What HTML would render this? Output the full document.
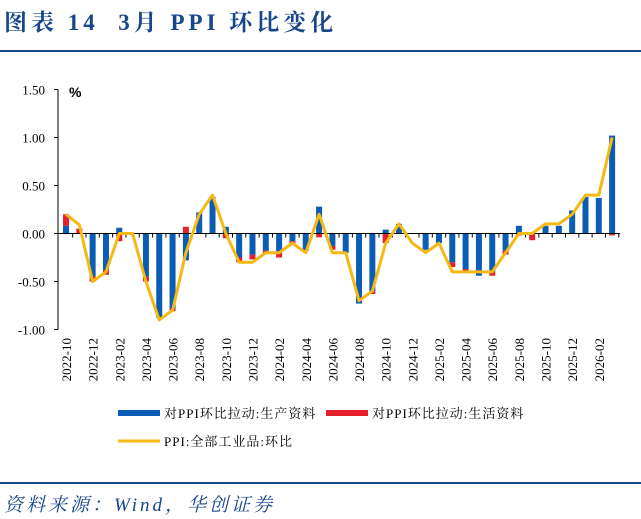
<!DOCTYPE html>
<html><head><meta charset="utf-8"><style>
body{margin:0;width:641px;height:519px;background:#fff;overflow:hidden;font-family:"Liberation Serif","Noto Serif CJK SC",serif;}
#title{position:absolute;left:4px;top:4px;font-size:23px;font-weight:bold;color:#17468a;letter-spacing:4px;white-space:pre;}
#src{position:absolute;left:4px;top:490px;font-size:19px;font-style:italic;color:#17468a;letter-spacing:3px;}
</style></head><body>
<div id="title">图表 14  3月 PPI 环比变化</div>
<svg id="c" width="641" height="519" style="position:absolute;left:0;top:0">
<line x1="0" y1="51" x2="641" y2="51" stroke="#17468a" stroke-width="2"/>
<line x1="0" y1="483" x2="641" y2="483" stroke="#17468a" stroke-width="2"/>
</svg>
<div id="src">资料来源：Wind，华创证券</div>
<script>
const months=["2022-10","2022-11","2022-12","2023-01","2023-02","2023-03","2023-04","2023-05","2023-06","2023-07","2023-08","2023-09","2023-10","2023-11","2023-12","2024-01","2024-02","2024-03","2024-04","2024-05","2024-06","2024-07","2024-08","2024-09","2024-10","2024-11","2024-12","2025-01","2025-02","2025-03","2025-04","2025-05","2025-06","2025-07","2025-08","2025-09","2025-10","2025-11","2025-12","2026-01","2026-02","2026-03"];
const prodVals=[0.08,0,-0.45,-0.38,0.06,0,-0.45,-0.88,-0.78,-0.28,0.22,0.38,0.07,-0.25,-0.22,-0.18,-0.2,-0.08,-0.18,0.28,-0.13,-0.2,-0.73,-0.6,0.04,0.1,0,-0.17,-0.1,-0.3,-0.37,-0.44,-0.4,-0.18,0.08,0,0.08,0.08,0.24,0.38,0.37,1.02];
const lifeVals=[0.12,0.05,-0.05,-0.05,-0.08,0,-0.05,0,-0.03,0.07,0,0,-0.05,-0.05,-0.05,-0.03,-0.05,-0.03,0,-0.04,-0.04,0,0,-0.03,-0.1,0,0,0,0,-0.05,-0.03,0,-0.04,-0.04,-0.02,-0.07,0,0,0,0,0,-0.02];
const ppiVals=[0.2,0.09,-0.5,-0.4,0,0,-0.5,-0.9,-0.8,-0.2,0.2,0.4,0,-0.3,-0.3,-0.2,-0.2,-0.1,-0.2,0.2,-0.2,-0.2,-0.7,-0.6,-0.1,0.1,-0.1,-0.2,-0.1,-0.4,-0.4,-0.4,-0.4,-0.2,0,0,0.1,0.1,0.2,0.4,0.4,1.0];
const yTicks=[1.5,1.0,0.5,0,-0.5,-1.0];
const yTickLabels=["1.50","1.00","0.50","0.00","-0.50","-1.00"];
const svg=document.getElementById('c');const NS='http://www.w3.org/2000/svg';
const y=v=>233.5-v*96;
const x=i=>66+i*13.32;
function mk(t,a){const e=document.createElementNS(NS,t);for(const k in a)e.setAttribute(k,a[k]);svg.appendChild(e);return e;}
let ax=mk('line',{x1:58,y1:y(1.5),x2:58,y2:y(-1),stroke:'#000','stroke-width':1});


yTicks.forEach((v,i)=>{
 let t=mk('line',{x1:54,y1:y(v),x2:58,y2:y(v),stroke:'#000'});
 
 
 let l=mk('text',{x:45,y:y(v)+5,'text-anchor':'end','font-size':13,'font-family':'Liberation Serif, serif'});l.textContent=yTickLabels[i];
 
 
});
let pc=mk('text',{x:69,y:97,'font-size':14,'font-weight':'bold','font-family':'Liberation Sans, sans-serif'});pc.textContent='%';


months.forEach((m,i)=>{
 const b=prodVals[i],r=lifeVals[i];
 let pos=0,neg=0;
 [[b,'#0b5cb4','bar-production'],[r,'#e3202c','bar-living']].forEach(([v,c,n])=>{
  let y0,y1;
  if(v>=0){y0=pos;y1=pos+v;pos=y1;}else{y0=neg;y1=neg+v;neg=y1;}
  if(v===0)return;
  let e=mk('rect',{x:x(i)-3,y:Math.min(y(y0),y(y1)),width:6,height:Math.abs(y(y1)-y(y0)),fill:c});
  
  
 });
});
let xa=mk('line',{x1:58,y1:y(0),x2:620,y2:y(0),stroke:'#000'});


months.forEach((m,i)=>{
 let t=mk('line',{x1:x(i)+6.66,y1:y(0),x2:x(i)+6.66,y2:y(0)+4,stroke:'#000'});
 
 
 if(i%2===0){
  let l=mk('text',{x:0,y:0,'font-size':13,'text-anchor':'end','font-family':'Liberation Serif, serif',transform:`translate(${x(i)+5},338) rotate(-90)`});l.textContent=m;
  
  
 }
});
let pts=ppiVals.map((v,i)=>x(i)+','+y(v)).join(' ');
let pl=mk('polyline',{points:pts,fill:'none',stroke:'#f5b914','stroke-width':3,'stroke-linejoin':'round'});


const leg=[[118,413,'#0b5cb4',6,'对PPI环比拉动:生产资料','legend-production'],[326,413,'#e3202c',6,'对PPI环比拉动:生活资料','legend-living'],[118,441,'#f5b914',3,'PPI:全部工业品:环比','legend-ppi']];
leg.forEach(([lx,ly,c,w,t,n])=>{
 let g=mk('g',{});
 let s=document.createElementNS(NS,'line');[['x1',lx],['y1',ly],['x2',lx+42],['y2',ly],['stroke',c],['stroke-width',w]].forEach(a=>s.setAttribute(a[0],a[1]));g.appendChild(s);
 let tx=document.createElementNS(NS,'text');tx.setAttribute('x',lx+46);tx.setAttribute('y',ly+5);tx.setAttribute('font-size',13);tx.setAttribute('letter-spacing','1');tx.setAttribute('font-family','Liberation Serif, Noto Serif CJK SC, serif');tx.textContent=t;g.appendChild(tx);
});
</script>
</body></html>
